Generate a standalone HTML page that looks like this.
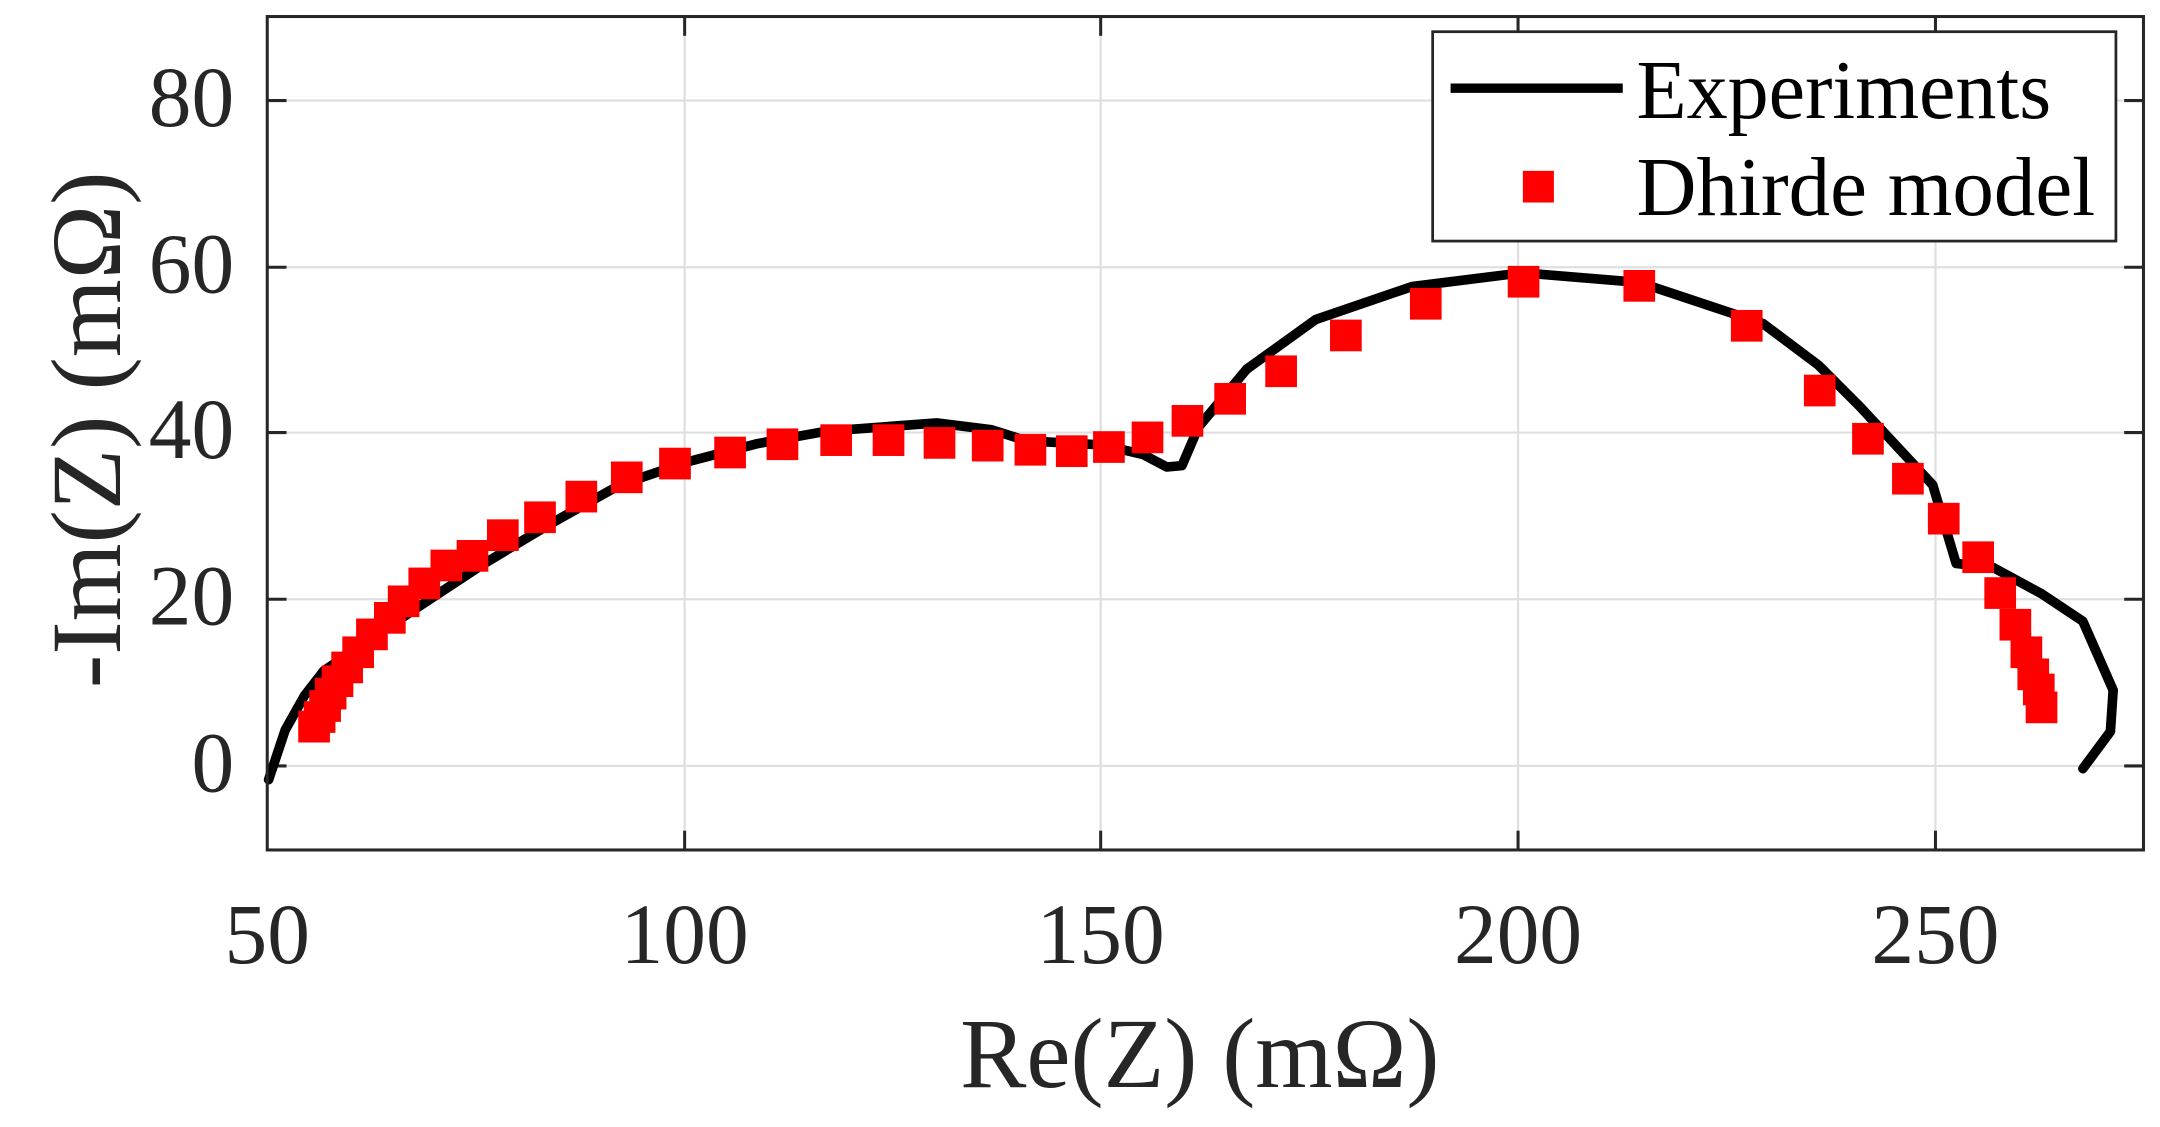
<!DOCTYPE html>
<html><head><meta charset="utf-8"><style>html,body{margin:0;padding:0;background:#fff}svg{display:block}</style></head>
<body>
<svg width="2160" height="1127" viewBox="0 0 1568 818.1" xmlns="http://www.w3.org/2000/svg">
<rect x="0" y="0" width="1568" height="818.1" fill="#fff"/>
<g stroke="#dfdfdf" stroke-width="1.6">
<line x1="497" y1="12" x2="497" y2="617"/><line x1="799" y1="12" x2="799" y2="617"/><line x1="1102" y1="12" x2="1102" y2="617"/><line x1="1405" y1="12" x2="1405" y2="617"/>
<line x1="194" y1="73" x2="1556" y2="73"/><line x1="194" y1="194" x2="1556" y2="194"/><line x1="194" y1="314" x2="1556" y2="314"/><line x1="194" y1="435" x2="1556" y2="435"/><line x1="194" y1="556" x2="1556" y2="556"/>
</g>
<g stroke="#262626" stroke-width="2.2">
<line x1="497" y1="617" x2="497" y2="603"/><line x1="799" y1="617" x2="799" y2="603"/><line x1="1102" y1="617" x2="1102" y2="603"/><line x1="1405" y1="617" x2="1405" y2="603"/>
<line x1="497" y1="12" x2="497" y2="26"/><line x1="799" y1="12" x2="799" y2="26"/><line x1="1102" y1="12" x2="1102" y2="26"/><line x1="1405" y1="12" x2="1405" y2="26"/>
<line x1="194" y1="73" x2="208" y2="73"/><line x1="194" y1="194" x2="208" y2="194"/><line x1="194" y1="314" x2="208" y2="314"/><line x1="194" y1="435" x2="208" y2="435"/><line x1="194" y1="556" x2="208" y2="556"/>
<line x1="1556" y1="73" x2="1542" y2="73"/><line x1="1556" y1="194" x2="1542" y2="194"/><line x1="1556" y1="314" x2="1542" y2="314"/><line x1="1556" y1="435" x2="1542" y2="435"/><line x1="1556" y1="556" x2="1542" y2="556"/>
</g>
<polyline fill="none" stroke="#000" stroke-width="7" stroke-linejoin="round" stroke-linecap="round" points="195,566 207,530 221,505 235,487 260,470 300,443 350,410 400,380 450,352 500,335 550,322 600,313 680,307 720,312 745,320 800,323 830,330 847,339 858,338 870,310 885,292 905,268 955,232 1025,208 1105,198 1190,205 1280,235 1320,265 1350,295 1403,352 1420,409 1447,412 1482,431 1512,451 1534,501 1532,531 1512,558"/>
<g fill="#ff0000">
<rect x="216.5" y="516" width="23" height="23"/><rect x="220.5" y="509" width="23" height="23"/><rect x="224.5" y="501" width="23" height="23"/><rect x="228.5" y="492" width="23" height="23"/><rect x="233.5" y="483" width="23" height="23"/><rect x="240.5" y="473" width="23" height="23"/><rect x="248.5" y="462" width="23" height="23"/><rect x="258.5" y="449" width="23" height="23"/><rect x="271.5" y="437" width="23" height="23"/><rect x="281.5" y="425" width="23" height="23"/><rect x="296.5" y="412" width="23" height="23"/><rect x="312.5" y="399" width="23" height="23"/><rect x="331.5" y="392" width="23" height="23"/><rect x="353.5" y="377" width="23" height="23"/><rect x="380.5" y="364" width="23" height="23"/><rect x="410.5" y="349" width="23" height="23"/><rect x="443.5" y="335" width="23" height="23"/><rect x="478.5" y="325" width="23" height="23"/><rect x="518.5" y="317" width="23" height="23"/><rect x="556.5" y="311" width="23" height="23"/><rect x="595.5" y="308" width="23" height="23"/><rect x="633.5" y="308" width="23" height="23"/><rect x="670.5" y="310" width="23" height="23"/><rect x="705.5" y="312" width="23" height="23"/><rect x="736.5" y="315" width="23" height="23"/><rect x="766.5" y="316" width="23" height="23"/><rect x="793.5" y="313" width="23" height="23"/><rect x="821.5" y="306" width="23" height="23"/><rect x="850.5" y="294" width="23" height="23"/><rect x="881.5" y="278" width="23" height="23"/><rect x="918.5" y="258" width="23" height="23"/><rect x="965.5" y="232" width="23" height="23"/><rect x="1023.5" y="209" width="23" height="23"/><rect x="1094.5" y="193" width="23" height="23"/><rect x="1178.5" y="196" width="23" height="23"/><rect x="1256.5" y="225" width="23" height="23"/><rect x="1309.5" y="272" width="23" height="23"/><rect x="1344.5" y="307" width="23" height="23"/><rect x="1373.5" y="336" width="23" height="23"/><rect x="1399.5" y="365" width="23" height="23"/><rect x="1424.5" y="393" width="23" height="23"/><rect x="1440.5" y="419" width="23" height="23"/><rect x="1451.5" y="442" width="23" height="23"/><rect x="1459.5" y="462" width="23" height="23"/><rect x="1464.5" y="478" width="23" height="23"/><rect x="1468.5" y="489" width="23" height="23"/><rect x="1470.5" y="502" width="23" height="23"/>
</g>
<rect x="194" y="12" width="1362" height="605" fill="none" stroke="#262626" stroke-width="2.2"/>
<rect x="1040" y="23" width="496" height="152" fill="#fff" stroke="#262626" stroke-width="2"/>
<line x1="1053" y1="64" x2="1178" y2="64" stroke="#000" stroke-width="6.8"/>
<rect x="1105.5" y="124" width="22.5" height="23" fill="#ff0000"/>
<g font-family="Liberation Serif, serif" fill="#000">
<text x="1188" y="85.6" font-size="61" textLength="301" lengthAdjust="spacingAndGlyphs">Experiments</text>
<text x="1188" y="156" font-size="61" textLength="333" lengthAdjust="spacingAndGlyphs">Dhirde model</text>
</g>
<g font-family="Liberation Serif, serif" fill="#262626" font-size="62">
<g text-anchor="end">
<text x="170" y="91.5">80</text><text x="170" y="212.5">60</text><text x="170" y="332.5">40</text><text x="170" y="453.5">20</text><text x="170" y="574.5">0</text>
</g>
<g text-anchor="middle">
<text x="194" y="699">50</text><text x="497" y="699">100</text><text x="799" y="699">150</text><text x="1102" y="699">200</text><text x="1405" y="699">250</text>
</g>
<text x="871" y="789" font-size="72" text-anchor="middle" textLength="348" lengthAdjust="spacingAndGlyphs">Re(Z) (mΩ)</text>
<text transform="translate(87,312) rotate(-90)" font-size="72" text-anchor="middle" textLength="375" lengthAdjust="spacingAndGlyphs">-Im(Z) (mΩ)</text>
</g>
</svg>
</body></html>
